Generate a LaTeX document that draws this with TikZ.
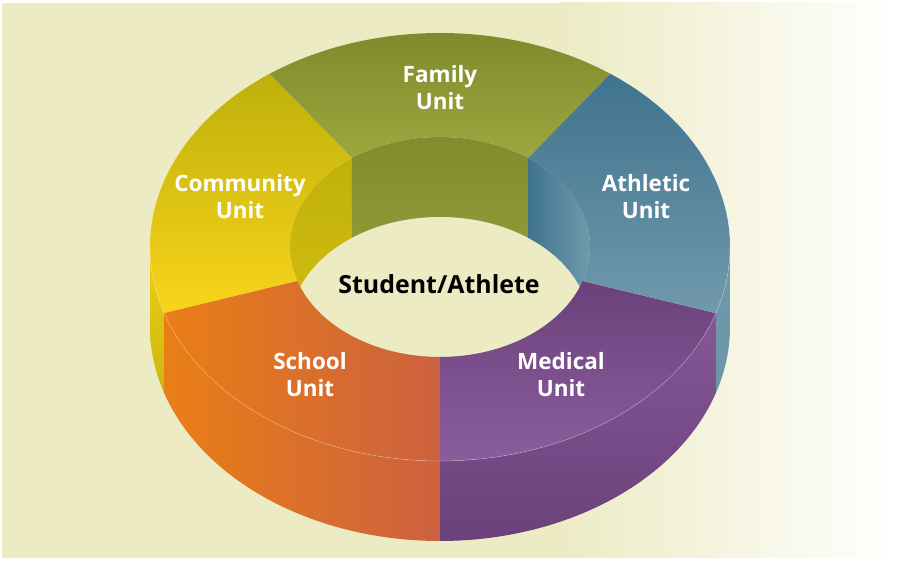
\documentclass[tikz,border=0pt]{standalone}
\usepackage{fontspec}
\setsansfont{Open Sans}
\usepackage{xcolor}
\usetikzlibrary{positioning}

\definecolor{bgbeige}{RGB}{236,235,196}
\definecolor{famdark}{RGB}{124,135,42}
\definecolor{famlight}{RGB}{156,168,63}
\definecolor{comdark}{RGB}{190,176,10}
\definecolor{comlight}{RGB}{249,212,27}
\definecolor{athdark}{RGB}{63,115,142}
\definecolor{athlight}{RGB}{113,153,172}
\definecolor{schlight}{RGB}{234,126,22}
\definecolor{schdark}{RGB}{204,97,64}
\definecolor{meddark}{RGB}{107,65,123}
\definecolor{medlight}{RGB}{138,94,156}

\def\ra{290}\def\rb{214}
\def\ia{150}\def\ib{110}
\def\dep{80}

\begin{document}
\begin{tikzpicture}
[x=0.02cm, y=0.02cm,
% The unit style is used to write the name of each unit on the ring
unit/.style={text=white, align=center, inner sep=0pt, font=\sffamily\bfseries\fontsize{12.8}{15.4}\selectfont},
% The hub style is used for the student in the middle
hub/.style={text=black, inner sep=0pt, font=\sffamily\bfseries\fontsize{14.2}{17}\selectfont},
edge/.style={draw=white, draw opacity=0.35, line width=0.3pt},
familytop/.style={top color=famdark, bottom color=famlight},
communitytop/.style={top color=comdark, bottom color=comlight},
athletictop/.style={top color=athdark, bottom color=athlight},
schooltop/.style={left color=schlight, right color=schdark},
medicaltop/.style={top color=meddark, bottom color=medlight},
communityside/.style={top color=comlight!85!comdark, bottom color=comdark!80!comlight},
schoolside/.style={left color=schlight, right color=schdark},
medicalside/.style={top color=medlight!80!meddark, bottom color=meddark},
athleticside/.style={top color=athlight, bottom color=athlight!90!athdark},
familywall/.style={top color=famdark!85!famlight, bottom color=famlight},
communitywall/.style={top color=comdark, bottom color=comdark!60!comlight},
athleticwall/.style={left color=athdark, right color=athlight}
]
\useasboundingbox (0,0) rectangle (897,561);
% Draw background
\fill[white] (0,0) rectangle (897,561);
\fill[bgbeige] (2,3) rectangle (897,558);
\shade[left color=bgbeige, right color=white] (560,3) rectangle (897,558);

\begin{scope}[shift={(440,314)}]
% Draw the outer side of the ring
\foreach \from/\to/\look in {180/198/communityside, 198/270/schoolside, 270/342/medicalside, 342/360/athleticside}
  \shade[\look] (\from:290 and 214) arc[start angle=\from, end angle=\to, x radius=\ra, y radius=\rb]
    -- ++(0,-\dep) arc[start angle=\to, end angle=\from, x radius=\ra, y radius=\rb] -- cycle;
% Draw the inner wall and the hole
\begin{scope}
\clip (0,0) ellipse[x radius=\ia, y radius=\ib];
\shade[communitywall] (-\ia,-\ib) rectangle (-88.2,\ib);
\shade[familywall] (-88.2,-\ib) rectangle (88.2,\ib);
\shade[athleticwall] (88.2,-\ib) rectangle (\ia,\ib);
\fill[bgbeige] (0,-\dep) ellipse[x radius=\ia, y radius=\ib];
\end{scope}
% Draw the top of each unit
\foreach \from/\to/\look in {54/126/familytop, 126/198/communitytop, 198/270/schooltop, 270/342/medicaltop, -18/54/athletictop}
  \shade[\look] (\from:290 and 214) arc[start angle=\from, end angle=\to, x radius=\ra, y radius=\rb]
    -- (\to:150 and 110) arc[start angle=\to, end angle=\from, x radius=\ia, y radius=\ib] -- cycle;
\draw[edge] (180:290 and 214) arc[start angle=180, end angle=360, x radius=\ra, y radius=\rb];
\end{scope}

% Draw labels
\node[unit] (family) at (440,473) {Family\\Unit};
\node[unit] (community) at (240,364) {Community\\Unit};
\node[unit] (athletic) at (646,364) {Athletic\\Unit};
\node[unit] (school) at (310,186) {School\\Unit};
\node[unit] (medical) at (561,186) {Medical\\Unit};
\node[hub] (student) at (439,277) {Student/Athlete};
\end{tikzpicture}
\end{document}
